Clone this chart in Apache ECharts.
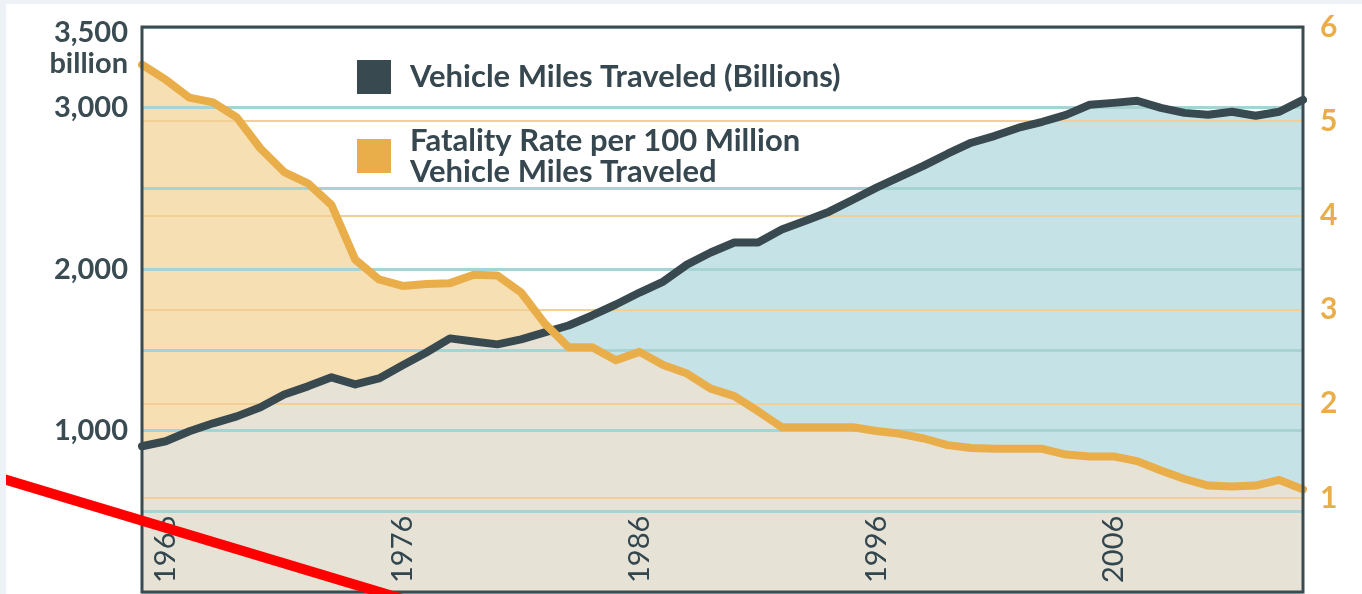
<!DOCTYPE html>
<html>
<head>
<meta charset="utf-8">
<script src="https://cdn.jsdelivr.net/npm/echarts@6/dist/echarts.min.js"></script>
<style>
  body { margin: 0; background: #eef2f6; }
  #chart { position: absolute; left: 6px; top: 4px; width: 1356px; height: 590px; background: #fff; }
</style>
</head>
<body>
<div id="chart"></div>
<script>
// years on the x axis (first one is the left edge of the plot)
const years = ['1965', '1966', '1967', '1968', '1969', '1970', '1971', '1972', '1973', '1974',
    '1975', '1976', '1977', '1978', '1979', '1980', '1981', '1982', '1983', '1984',
    '1985', '1986', '1987', '1988', '1989', '1990', '1991', '1992', '1993', '1994',
    '1995', '1996', '1997', '1998', '1999', '2000', '2001', '2002', '2003', '2004',
    '2005', '2006', '2007', '2008', '2009', '2010', '2011', '2012', '2013', '2014'];

// vehicle miles traveled, billions (left axis)
const vmt = [903, 934, 996, 1045, 1088, 1144, 1224, 1274, 1330, 1286,
    1323, 1404, 1484, 1571, 1552, 1534, 1565, 1608, 1651, 1713,
    1781, 1855, 1923, 2028, 2103, 2165, 2165, 2245, 2300, 2356,
    2430, 2505, 2573, 2641, 2715, 2783, 2826, 2876, 2913, 2956,
    3018, 3030, 3043, 2999, 2968, 2956, 2975, 2950, 2975, 3049];

// fatality rate per 100 million VMT (right axis)
const fatality = [5.60, 5.44, 5.25, 5.20, 5.04, 4.71, 4.46, 4.34, 4.11, 3.53,
    3.32, 3.25, 3.27, 3.28, 3.37, 3.36, 3.18, 2.85, 2.60, 2.60,
    2.46, 2.55, 2.41, 2.32, 2.16, 2.08, 1.92, 1.75, 1.75, 1.75,
    1.75, 1.71, 1.68, 1.63, 1.56, 1.53, 1.52, 1.52, 1.52, 1.46,
    1.44, 1.44, 1.39, 1.29, 1.20, 1.13, 1.12, 1.13, 1.19, 1.09];

const xTickLabels = ['1966', '1976', '1986', '1996', '2006'];
const leftTickValues = [1000, 2000, 3000, 3500];
const leftTickLabels = ['1,000', '2,000', '3,000', '3,500'];

const vmtName = 'Vehicle Miles Traveled (Billions)';
const fatalityName = 'Fatality Rate per 100 Million\nVehicle Miles Traveled';

const leftMax = 3500, rightMax = 6;

// part below both lines (drawn beige), in left axis units
const overlap = vmt.map((v, i) => Math.min(v, fatality[i] * leftMax / rightMax));

const dark = '#38494f';
const orange = '#e9ae4a';

let chart = echarts.init(document.getElementById('chart'));
let option = {
    animation: false,
    grid: {
        left: 136, right: 59, top: 23, bottom: 2,
        show: true, borderColor: '#3b4b52', borderWidth: 3,
        backgroundColor: 'transparent', z: 5
    },
    legend: {
        orient: 'vertical',
        left: 346, top: 51,
        itemWidth: 34, itemHeight: 34, itemGap: 31,
        icon: 'rect',
        selectedMode: false,
        data: [vmtName, fatalityName],
        textStyle: {
            fontFamily: 'Lato', fontWeight: 'bold', fontSize: 31,
            color: '#37474f', lineHeight: 31, padding: [0, 0, 0, 14]
        }
    },
    xAxis: {
        type: 'category',
        data: years,
        boundaryGap: false,
        z: 3,
        axisLine: { show: false },
        axisTick: { show: false },
        splitLine: { show: false },
        axisLabel: {
            inside: true,
            rotate: 90,
            margin: 9,
            interval: (idx, val) => xTickLabels.includes(val),
            fontFamily: 'Lato', fontSize: 29, color: '#33464e'
        }
    },
    yAxis: [{
        type: 'value',
        min: 0, max: leftMax, interval: 500,
        position: 'left',
        z: 3,
        name: 'billion',
        nameLocation: 'end',
        nameGap: -37,
        nameTextStyle: {
            fontFamily: 'Lato', fontWeight: 'bold', fontSize: 29, color: '#3a4b52',
            align: 'right', verticalAlign: 'middle', padding: [0, 14, 0, 0]
        },
        axisLine: { show: false },
        axisTick: { show: false },
        splitLine: { lineStyle: { color: '#a6d3d3', width: 3 } },
        axisLabel: {
            margin: 14,
            fontFamily: 'Lato', fontWeight: 'bold', fontSize: 29, color: '#3a4b52',
            formatter: function (v) {
                let k = leftTickValues.indexOf(v);
                if (k < 0) return '';
                if (v === leftMax) return '{t|' + leftTickLabels[k] + '}';
                return leftTickLabels[k];
            },
            rich: {
                t: {
                    fontFamily: 'Lato', fontWeight: 'bold', fontSize: 29, color: '#3a4b52',
                    padding: [12, 0, 0, 0]
                }
            }
        }
    }, {
        type: 'value',
        min: 0, max: rightMax, interval: 1,
        position: 'right',
        z: 3,
        axisLine: { show: false },
        axisTick: { show: false },
        splitLine: { lineStyle: { color: '#f1cf95', width: 2 } },
        axisLabel: {
            margin: 17,
            fontFamily: 'Lato', fontWeight: 'bold', fontSize: 30, color: orange,
            formatter: v => (v === 0 ? '' : String(v))
        }
    }],
    graphic: [{
        type: 'line',
        z: 100,
        shape: { x1: -6, y1: 474, x2: 420, y2: 602 },
        style: { stroke: '#ff0000', lineWidth: 10 }
    }],
    series: [
        {
            name: 'vmt area', type: 'line', data: vmt, yAxisIndex: 0,
            symbol: 'none', z: 1, silent: true,
            lineStyle: { width: 0 },
            areaStyle: { color: '#c5e2e6', opacity: 1 }
        },
        {
            name: 'fatality area', type: 'line', data: fatality, yAxisIndex: 1,
            symbol: 'none', z: 1, silent: true,
            lineStyle: { width: 0 },
            areaStyle: { color: '#f5dfb3', opacity: 1 }
        },
        {
            name: 'both area', type: 'line', data: overlap, yAxisIndex: 0,
            symbol: 'none', z: 1, silent: true,
            lineStyle: { width: 0 },
            areaStyle: { color: '#e6e2d6', opacity: 1 }
        },
        {
            name: vmtName, type: 'line', data: vmt, yAxisIndex: 0,
            symbol: 'none', z: 4, color: dark,
            lineStyle: { color: dark, width: 8, join: 'round', cap: 'round' }
        },
        {
            name: fatalityName, type: 'line', data: fatality, yAxisIndex: 1,
            symbol: 'none', z: 4, color: orange,
            lineStyle: { color: orange, width: 8, join: 'round', cap: 'round' }
        }
    ]
};
chart.setOption(option);
</script>
</body>
</html>
